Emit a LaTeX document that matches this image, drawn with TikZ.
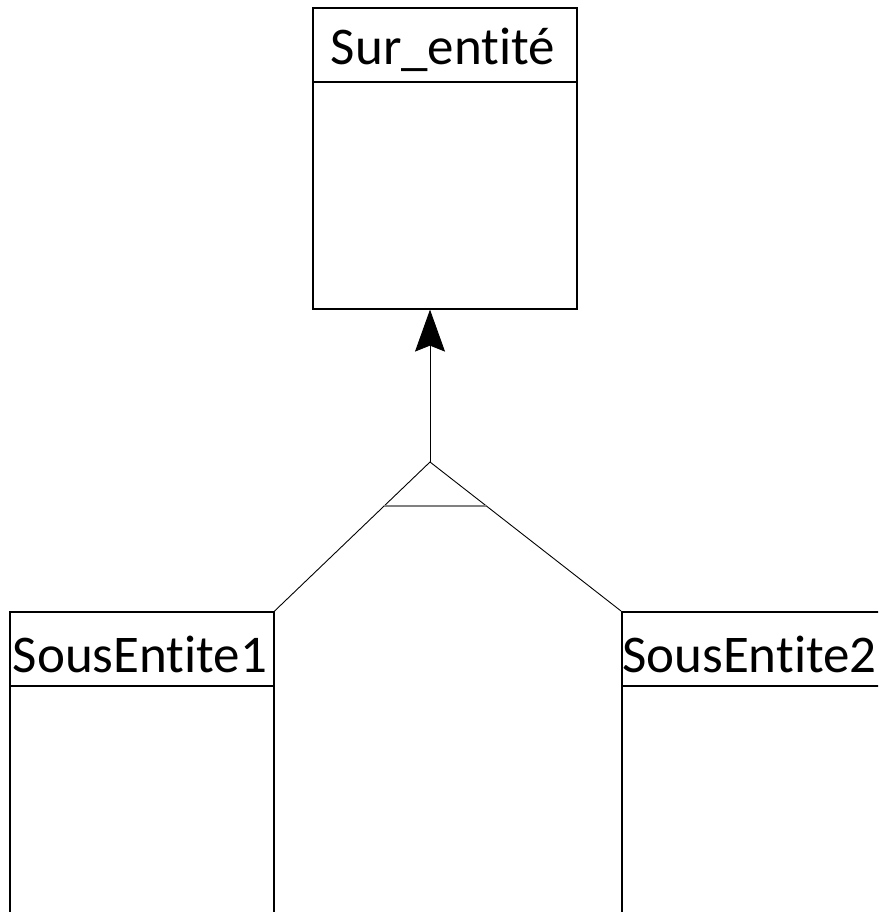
\documentclass[tikz,border=0pt]{standalone}
\usepackage{fontspec}
\setmainfont{Carlito}[Ligatures={NoCommon}]
\usetikzlibrary{arrows.meta,positioning,calc}

\begin{document}
\begin{tikzpicture}[x=1pt,y=-1pt,>={Stealth[length=42pt,width=30pt,inset=6pt]},
  entity/.style={draw,line width=1.6pt,anchor=north west,minimum width=264pt,inner sep=0pt},
  entname/.style={anchor=base,font=\fontsize{53pt}{64pt}\selectfont},
  link/.style={line width=0.9pt},
  isabar/.style={draw=black!50,line width=1.8pt}]
\useasboundingbox (0,0) rectangle (878,912);
\clip (0,0) rectangle (878,912);
% super entity
\node[entity,minimum height=301pt] (sur) at (312,7) {};
\draw[line width=1.6pt] ([yshift=-75pt]sur.north west) -- ([yshift=-75pt]sur.north east);
\node[entname] (surname) at (443,65) {Sur\_entité};
% sub entities
\node[entity,minimum height=330pt] (sous1) at (9,611) {};
\draw[line width=1.6pt] ([yshift=-75pt]sous1.north west) -- ([yshift=-75pt]sous1.north east);
\node[entname] (sous1name) at (140,672) {SousEntite1};
\node[entity,minimum height=330pt] (sous2) at (621,611) {};
\draw[line width=1.6pt] ([yshift=-75pt]sous2.north west) -- ([yshift=-75pt]sous2.north east);
\node[entname] (sous2name) at (749.5,672) {SousEntite2};
% inheritance
\coordinate (isa) at (430,462);
\draw[->,link] (isa) -- (isa |- sur.south);
\draw[link] (sous1.north east) -- (isa) -- (sous2.north west);
\draw[isabar] ($(isa)!0.295!(sous1.north east)$) -- ($(isa)!0.295!(sous2.north west)$);
\end{tikzpicture}
\end{document}
